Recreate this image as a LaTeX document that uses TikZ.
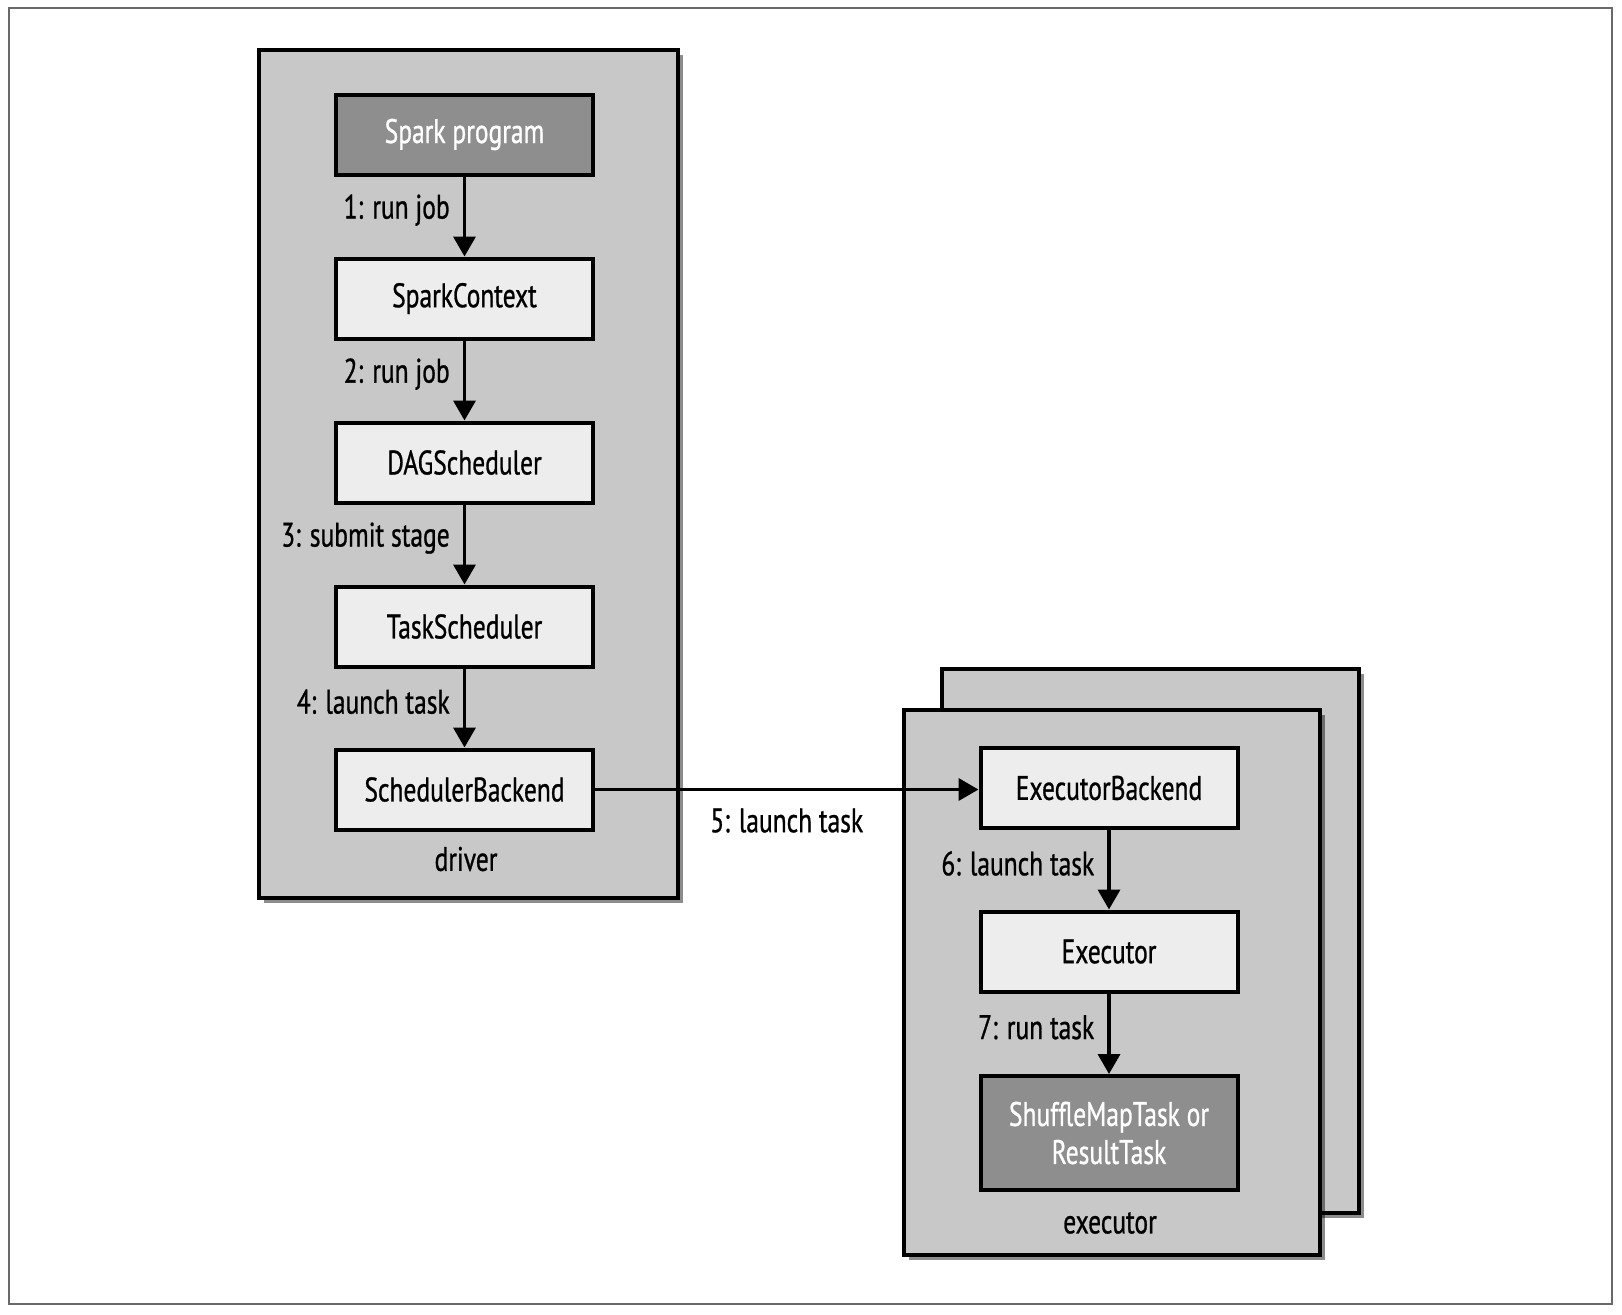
\documentclass[tikz,border=0pt]{standalone}
\usepackage{fontspec}
\setmainfont{PT Sans}[FakeStretch=0.75,FakeBold=0.8]
\usetikzlibrary{arrows.meta,shadows}
\definecolor{panelgray}{RGB}{200,200,200}
\definecolor{boxlight}{RGB}{237,237,237}
\definecolor{boxdark}{RGB}{142,142,142}
\definecolor{framegray}{RGB}{105,105,105}
\begin{document}
\begin{tikzpicture}[x=0.5pt,y=-0.5pt,
  every node/.style={font=\fontsize{17}{19}\selectfont},
  panel/.style={draw=black, line width=2pt, fill=panelgray, rectangle, inner sep=0pt,
    drop shadow={shadow xshift=2.5pt, shadow yshift=-2.5pt, fill=black, opacity=0.45}},
  stepbox/.style={draw=black, line width=2pt, fill=boxlight, rectangle, inner sep=0pt,
    minimum width=128.5pt, minimum height=40pt, align=center},
  darkbox/.style={stepbox, fill=boxdark, text=white},
  flow/.style={line width=1.8pt, -{Triangle[length=10pt,width=11pt]}},
  lbl/.style={anchor=east, inner sep=0pt, xshift=-6.5pt, pos=0.42},
  plabel/.style={inner sep=0pt}
]
\useasboundingbox (0,0) rectangle (1622,1314);
\fill[white] (0,0) rectangle (1622,1314);
\node[draw=framegray, line width=1pt, rectangle, inner sep=0pt,
  minimum width=801.5pt, minimum height=648pt] (frame) at (810.5,656) {};

% panels
\node[panel, minimum width=209.5pt, minimum height=424pt] (driver) at (468.5,474) {};
\node[panel, minimum width=208.5pt, minimum height=272pt] (execback) at (1150.5,941) {};
\node[panel, minimum width=208pt, minimum height=272.5pt] (execfront) at (1112,982.5) {};

% driver boxes
\node[darkbox] (sp) at (464.5,134.5) {Spark program};
\node[stepbox] (sc) at (464.5,298.5) {SparkContext};
\node[stepbox] (dag) at (464.5,462.5) {DAGScheduler};
\node[stepbox] (ts) at (464.5,626.5) {TaskScheduler};
\node[stepbox] (sb) at (464.5,789.5) {SchedulerBackend};
\node[plabel] (drvlbl) at (466,859) {driver};

% executor boxes
\node[stepbox] (eb) at (1109,788) {ExecutorBackend};
\node[stepbox] (ex) at (1109,951.5) {Executor};
\node[darkbox, minimum height=57pt] (task) at (1109,1133) {ShuffleMapTask or\\ResultTask};
\node[plabel] (exlbl) at (1110,1223) {executor};

% connectors
\draw[flow] (sp) -- node[lbl]{1: run job} (sc);
\draw[flow] (sc) -- node[lbl]{2: run job} (dag);
\draw[flow] (dag) -- node[lbl]{3: submit stage} (ts);
\draw[flow] (ts) -- node[lbl]{4: launch task} (sb);
\draw[flow] (sb.east) -- node[midway, inner sep=0pt, yshift=-15.5pt]{5: launch task} (sb.east -| eb.west);
\draw[flow] (eb) -- node[lbl]{6: launch task} (ex);
\draw[flow] (ex) -- node[lbl]{7: run task} (task);
\end{tikzpicture}
\end{document}
